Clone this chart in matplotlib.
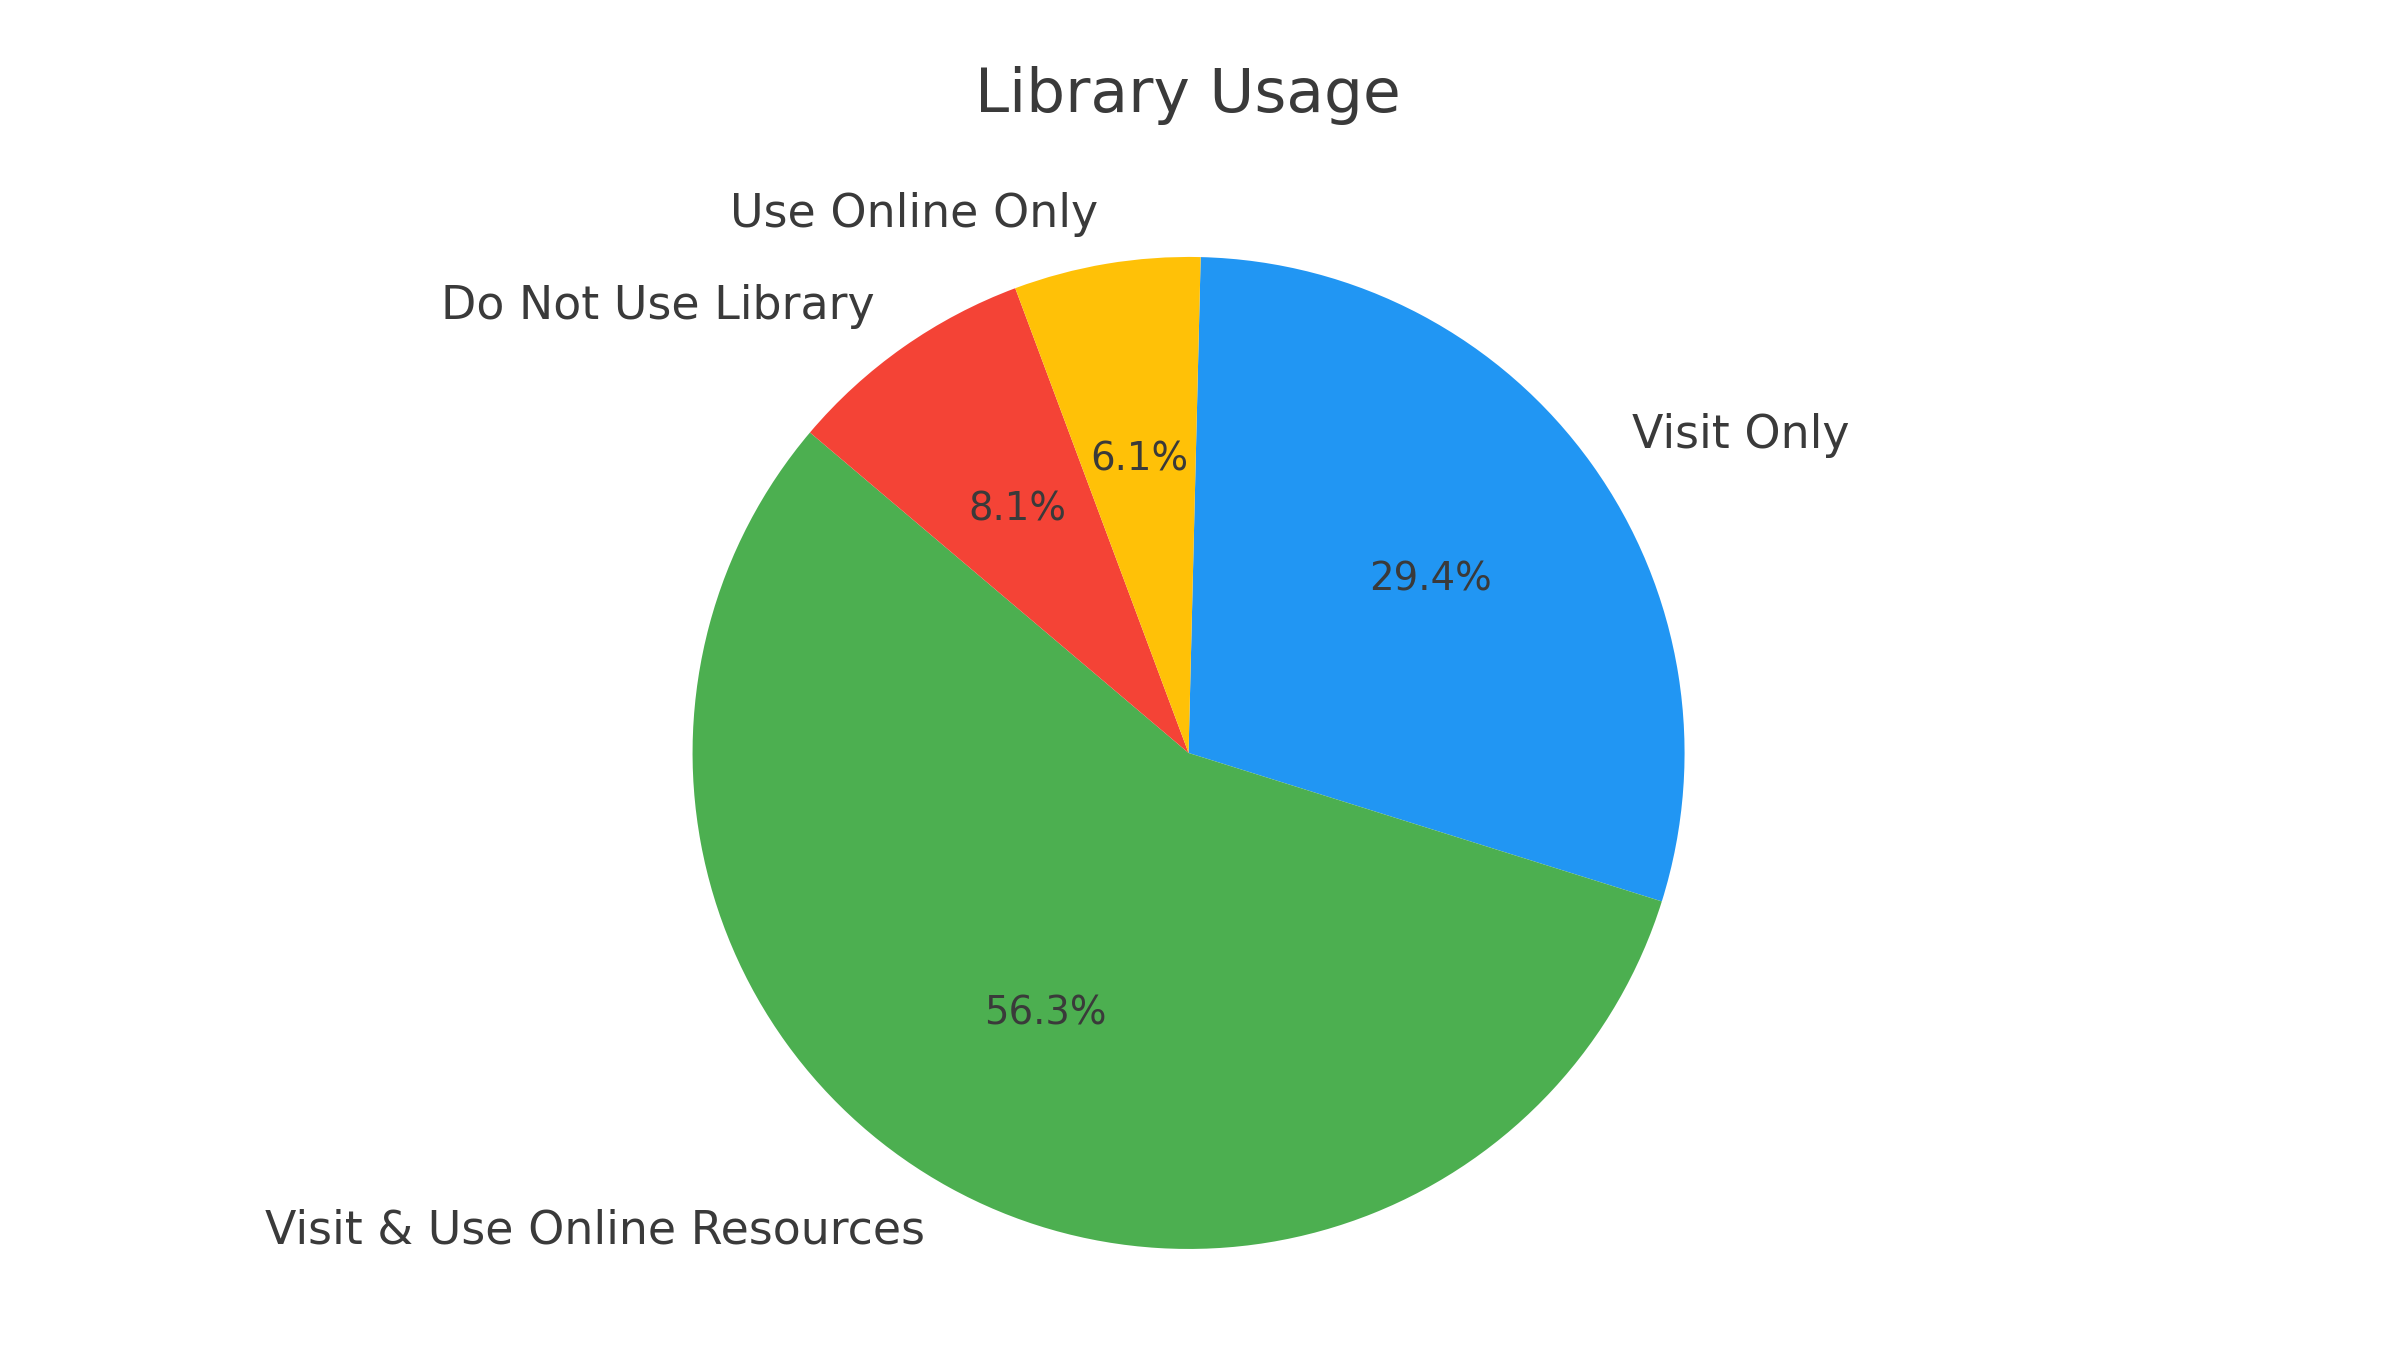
import matplotlib
matplotlib.use("Agg")
import matplotlib.pyplot as plt

labels = ["Visit Only", "Visit & Use Online Resources", "Do Not Use Library", "Use Online Only"]
shares = [29.45, 56.34, 8.14, 6.07]
colors = ["#2196F3", "#4CAF50", "#F44336", "#FFC107"]

text_color = "#3a3a3a"

fig = plt.figure(figsize=(12, 6.75), dpi=200)
# pie centre at (1188, 753) px, radius ~496 px
ax = fig.add_axes([0.2369, -0.017, 1240 / 2400, 1240 / 1350])

wedges, texts, autotexts = ax.pie(
    shares,
    labels=labels,
    colors=colors,
    autopct="%1.1f%%",
    startangle=88.6,
    counterclock=False,
    textprops={"color": text_color, "fontsize": 16.5},
)
for t in autotexts:
    t.set_fontsize(13.9)
    t.set_color(text_color)
ax.set_xlim(-1.25, 1.25)
ax.set_ylim(-1.25, 1.25)

fig.text(1188 / 2400, 1 - 112 / 1350, "Library Usage", ha="center", va="baseline",
         fontsize=22.1, color=text_color)

fig.savefig("out.png", dpi=200)
